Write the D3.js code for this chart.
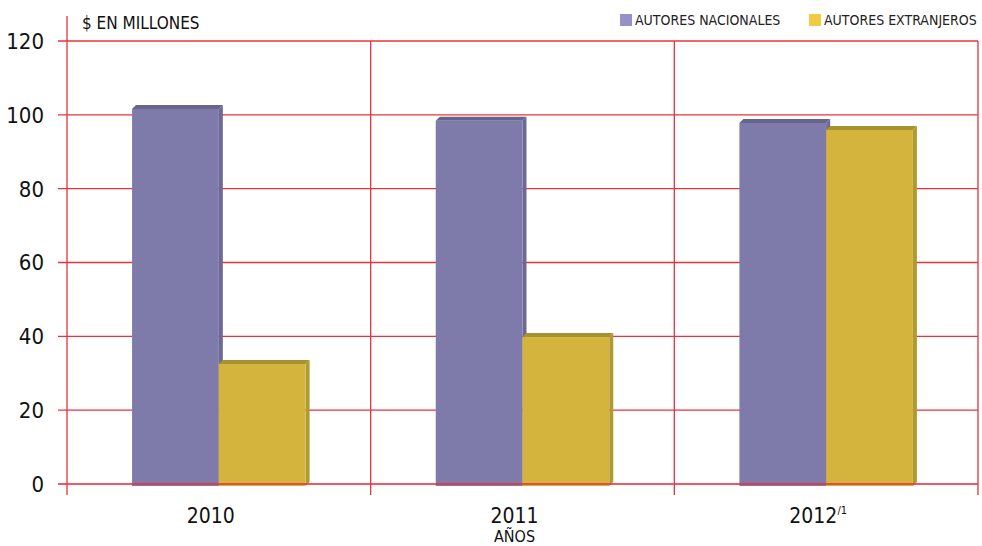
<!DOCTYPE html>
<html lang="es">
<head>
<meta charset="UTF-8">
<script src="https://cdn.jsdelivr.net/npm/d3@7"></script>
<title>Autores nacionales y extranjeros</title>
<style>
	body { margin: 0; background: #fff; }
	svg { font-family: "DejaVu Sans Condensed", "Liberation Sans Narrow", sans-serif; }
</style>
</head>
<body>
<svg id="chart" width="982" height="546"></svg>
<script>
	// data
	const years = ['2010', '2011', '2012'];
	const series = ['AUTORES NACIONALES', 'AUTORES EXTRANJEROS'];
	const nacionales = [101.6, 98.4, 97.8];
	const extranjeros = [32.5, 39.8, 95.9];
	const yTicks = [0, 20, 40, 60, 80, 100, 120];

	const width = 982, height = 546;
	const margin = { top: 41, right: 4, bottom: 62, left: 67 };
	const depth = 4;

	const colors = {
		front: ['#7e7aa9', '#d4b43d'],
		top: ['#66648c', '#a8922f'],
		side: ['#6c6a95', '#b09a33'],
		legend: ['#9590c8', '#f0cc42']
	};

	const svg = d3.select('#chart');

	const x0 = d3.scaleBand()
		.domain(years)
		.range([margin.left, width - margin.right])
		.padding(0);
	const x1 = d3.scaleBand()
		.domain(series)
		.range([0, x0.bandwidth()])
		.paddingInner(0)
		.paddingOuter(0.75)
		.align(0.5);
	const y = d3.scaleLinear()
		.domain([0, 120])
		.range([height - margin.bottom, margin.top]);

	const red = '#e8323c';

	// horizontal grid lines
	svg.append('g')
		.selectAll('line')
		.data(yTicks.filter(d => d > 0))
		.join('line')
		.attr('x1', margin.left - 9)
		.attr('x2', width - margin.right)
		.attr('y1', d => y(d))
		.attr('y2', d => y(d))
		.attr('stroke', red)
		.attr('stroke-width', 1.3);

	// vertical lines at category boundaries
	const bounds = years.map(d => x0(d)).concat([x0.range()[1]]);
	svg.append('g')
		.selectAll('line')
		.data(bounds)
		.join('line')
		.attr('x1', d => d)
		.attr('x2', d => d)
		.attr('y1', (d, i) => i === 0 ? 16 : y(120))
		.attr('y2', y(0) + 11)
		.attr('stroke', red)
		.attr('stroke-width', 1.3);

	// bars with a small 3D look
	const rows = [];
	years.forEach((yr, i) => {
		rows.push({ year: yr, s: 0, v: nacionales[i] });
		rows.push({ year: yr, s: 1, v: extranjeros[i] });
	});

	const bars = svg.append('g')
		.selectAll('g')
		.data(rows)
		.join('g');

	bars.each(function (d) {
		const g = d3.select(this);
		const bx = x0(d.year) + x1(series[d.s]);
		const bw = x1.bandwidth();
		const top = y(d.v);
		const bottom = y(0) + 2;
		g.append('path')
			.attr('d', `M${bx},${top} L${bx + depth},${top - depth} L${bx + bw + depth},${top - depth} L${bx + bw},${top} Z`)
			.attr('fill', colors.top[d.s]);
		g.append('path')
			.attr('d', `M${bx + bw},${top} L${bx + bw + depth},${top - depth} L${bx + bw + depth},${bottom - depth} L${bx + bw},${bottom} Z`)
			.attr('fill', colors.side[d.s]);
		g.append('rect')
			.attr('x', bx)
			.attr('y', top)
			.attr('width', bw)
			.attr('height', bottom - top)
			.attr('fill', colors.front[d.s]);
	});

	// zero line over the bars
	svg.append('line')
		.attr('x1', margin.left - 9)
		.attr('x2', width - margin.right)
		.attr('y1', y(0))
		.attr('y2', y(0))
		.attr('stroke', red)
		.attr('stroke-opacity', 0.8)
		.attr('stroke-width', 2);

	// y axis labels
	svg.append('g')
		.selectAll('text')
		.data(yTicks)
		.join('text')
		.attr('x', 44)
		.attr('y', d => y(d))
		.attr('dy', '0.36em')
		.attr('text-anchor', 'end')
		.attr('font-size', 22)
		.attr('fill', '#111')
		.text(d => d);

	// x axis labels
	const xl = svg.append('g')
		.selectAll('text')
		.data(years)
		.join('text')
		.attr('x', d => x0(d) + x0.bandwidth() / 2 - 8)
		.attr('y', 523)
		.attr('text-anchor', 'middle')
		.attr('font-size', 21)
		.attr('fill', '#111')
		.text(d => d);
	xl.filter(d => d === '2012')
		.append('tspan')
		.attr('font-size', 11)
		.attr('dy', -9)
		.text('/1');

	svg.append('text')
		.attr('x', x0('2011') + x0.bandwidth() / 2 - 8)
		.attr('y', 542)
		.attr('text-anchor', 'middle')
		.attr('font-size', 16)
		.attr('fill', '#111')
		.text('AÑOS');

	svg.append('text')
		.attr('x', 82)
		.attr('y', 29)
		.attr('font-size', 17)
		.attr('fill', '#111')
		.text('$ EN MILLONES');

	// legend
	const legendX = [620, 809];
	const lg = svg.append('g')
		.selectAll('g')
		.data(series)
		.join('g')
		.attr('transform', (d, i) => `translate(${legendX[i]},14)`);
	lg.append('rect')
		.attr('width', 12)
		.attr('height', 12)
		.attr('fill', (d, i) => colors.legend[i]);
	lg.append('text')
		.attr('x', 15)
		.attr('y', 11)
		.attr('font-size', 14)
		.attr('fill', '#222')
		.text(d => d);
</script>
</body>
</html>
